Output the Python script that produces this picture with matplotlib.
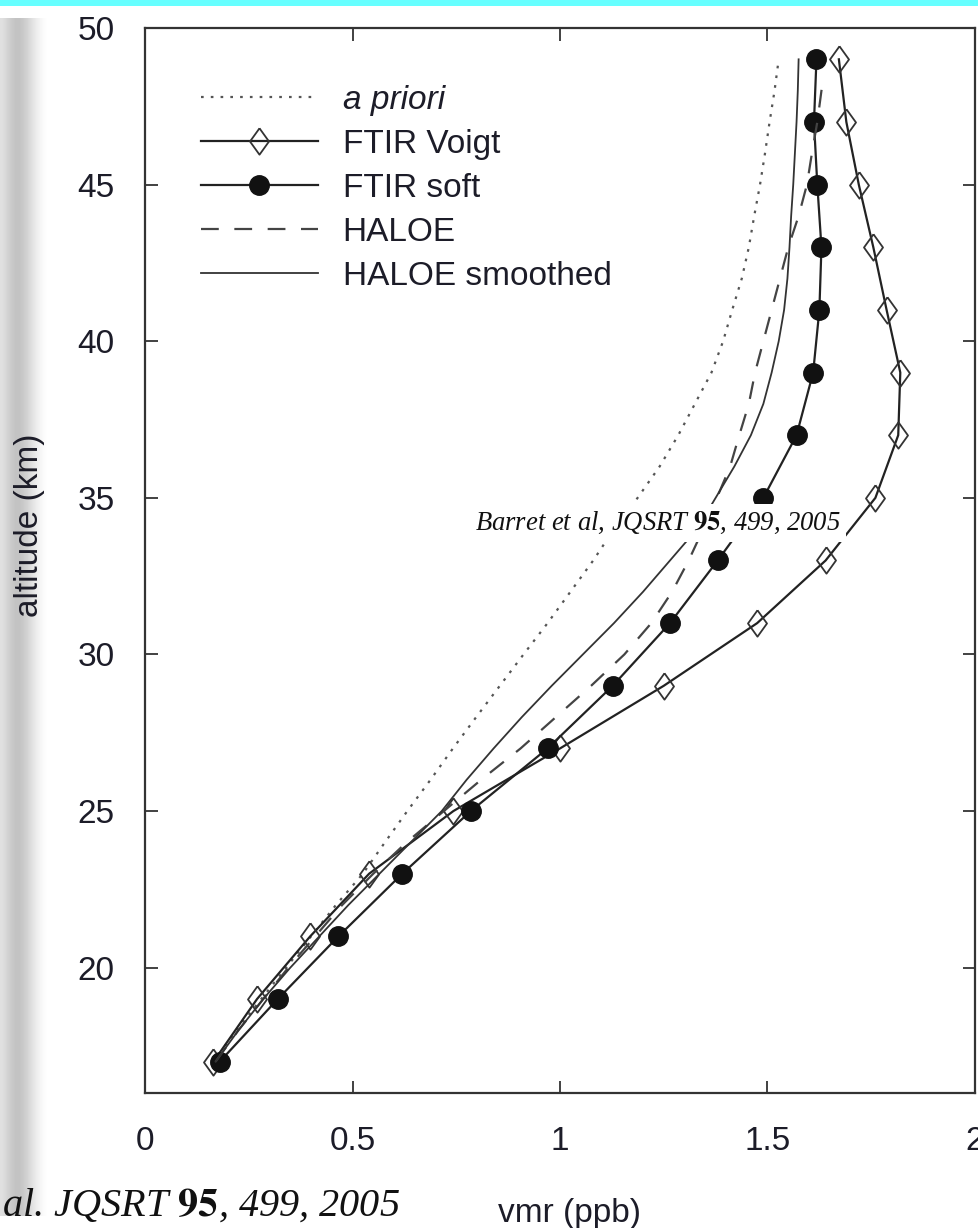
import numpy as np
import matplotlib
matplotlib.use("Agg")
import matplotlib.pyplot as plt

plt.rcParams['font.family'] = ['Liberation Sans', 'DejaVu Sans']
plt.rcParams['mathtext.fontset'] = 'stix'

# retrieval levels (km)
alt_ftir = [17, 19, 21, 23, 25, 27, 29, 31, 33, 35, 37, 39, 41, 43, 45, 47, 49]
ftir_voigt = [0.165, 0.27, 0.398, 0.54, 0.743, 1.0, 1.25, 1.475, 1.64, 1.76,
              1.815, 1.82, 1.787, 1.755, 1.72, 1.69, 1.672]
ftir_soft = [0.18, 0.32, 0.466, 0.62, 0.785, 0.97, 1.127, 1.265, 1.38, 1.49,
             1.57, 1.61, 1.625, 1.63, 1.62, 1.612, 1.618]

# a priori and HALOE profiles, 1 km grid
alt_apriori = list(range(17, 50))
apriori = [0.165, 0.22, 0.28, 0.34, 0.40, 0.46, 0.525, 0.578, 0.632, 0.688,
           0.742, 0.798, 0.855, 0.912, 0.97, 1.025, 1.08, 1.13, 1.187, 1.24,
           1.285, 1.325, 1.365, 1.393, 1.415, 1.438, 1.455, 1.468, 1.482,
           1.494, 1.505, 1.517, 1.527]

alt_haloe = list(range(17, 50))
haloe_smooth = [0.17, 0.225, 0.285, 0.35, 0.42, 0.49, 0.565, 0.64, 0.715, 0.775,
                0.84, 0.908, 0.98, 1.055, 1.13, 1.20, 1.265, 1.33, 1.375, 1.42,
                1.46, 1.49, 1.51, 1.527, 1.54, 1.548, 1.553, 1.557, 1.562,
                1.566, 1.57, 1.573, 1.575]

alt_haloe_d = list(range(17, 49)) + [48.5]
haloe = [0.17, 0.225, 0.285, 0.345, 0.41, 0.475, 0.55, 0.63, 0.72, 0.81,
         0.905, 0.99, 1.075, 1.155, 1.22, 1.27, 1.31, 1.345, 1.378, 1.41,
         1.432, 1.455, 1.47, 1.49, 1.51, 1.53, 1.55, 1.575, 1.595, 1.607,
         1.62, 1.63, 1.636]

xticks = [0, 0.5, 1, 1.5, 2]
xticklabels = ['0', '0.5', '1', '1.5', '2']
yticks = [20, 25, 30, 35, 40, 45, 50]

txt_col = '#1c1c28'
diamond = [(0, 1), (0.72, 0), (0, -1), (-0.72, 0), (0, 1)]

fig = plt.figure(figsize=(9.79, 12.28), dpi=100)

# cyan band on top and grey shade on the left (screenshot border)
fig.patches.append(plt.Rectangle((0, 1 - 6 / 1228), 1, 6 / 1228, transform=fig.transFigure,
                                 fc='#66ffff', ec='none', zorder=0))
gax = fig.add_axes([0, 0.01, 55 / 979, 0.975])
shade = np.array([[0.88, 0.82, 0.77, 0.76, 0.80, 0.86, 0.92, 0.97, 1.0, 1.0]])
gax.imshow(shade, cmap='gray', vmin=0, vmax=1, aspect='auto', interpolation='bicubic')
gax.set_axis_off()

ax = fig.add_axes([145 / 979, 1 - 1093 / 1228, 830 / 979, (1093 - 28) / 1228])

ax.plot(apriori, alt_apriori, color='#555555', lw=1.6, linestyle=(0, (1.2, 3.2)),
        label='a priori')
ax.plot(ftir_voigt, alt_ftir, color='#222222', lw=1.6, marker=diamond, ms=19,
        mfc='none', mec='#333333', mew=1.3, label='FTIR Voigt')
ax.plot(ftir_soft, alt_ftir, color='#222222', lw=1.6, marker='o', ms=14,
        mfc='#111111', mec='#111111', label='FTIR soft')
ax.plot(haloe, alt_haloe_d, color='#444444', lw=1.6, linestyle=(0, (8, 7)),
        label='HALOE')
ax.plot(haloe_smooth, alt_haloe, color='#333333', lw=1.3, label='HALOE smoothed')

ax.set_xlim(0, 2)
ax.set_ylim(16, 50)
ax.set_xticks(xticks)
ax.set_xticklabels(xticklabels)
ax.set_yticks(yticks)
ax.tick_params(direction='in', length=9, width=1.3, color='#333333',
               top=True, right=True, labelsize=24, labelcolor=txt_col)
ax.tick_params(axis='x', pad=24)
ax.tick_params(axis='y', pad=22)
for s in ax.spines.values():
    s.set_color('#333333')
    s.set_linewidth(1.6)

ax.set_xlabel('vmr (ppb)', fontsize=24, color=txt_col)
ax.xaxis.set_label_coords((569 - 145) / 830, -(1198 - 1093) / 1065)
ax.set_ylabel('altitude (km)', fontsize=24, color=txt_col)
ax.yaxis.set_label_coords(-(145 - 45) / 830, (1093 - 525) / 1065)

leg = ax.legend(loc='upper left', bbox_to_anchor=((201 - 145) / 830, (1093 - 85) / 1065),
                frameon=False, fontsize=24, handlelength=3.5, handletextpad=0.75,
                labelspacing=0.39, borderpad=0, borderaxespad=0, numpoints=1)
for t in leg.get_texts():
    t.set_color(txt_col)
leg.get_texts()[0].set_style('italic')

ax.text(0.795, 34.2, r'Barret et al, JQSRT $\mathbf{95}$, 499, 2005',
        family='Liberation Serif', style='italic', fontsize=19.2, color='#111111',
        ha='left', va='center', zorder=10,
        bbox=dict(fc='white', ec='none', pad=4))

fig.text(400 / 979, 1 - 1206 / 1228, r'Barret et al. JQSRT $\mathbf{95}$, 499, 2005',
         family='Liberation Serif', style='italic', fontsize=29, color='#111111',
         ha='right', va='center')

fig.savefig('out.png', dpi=100)
